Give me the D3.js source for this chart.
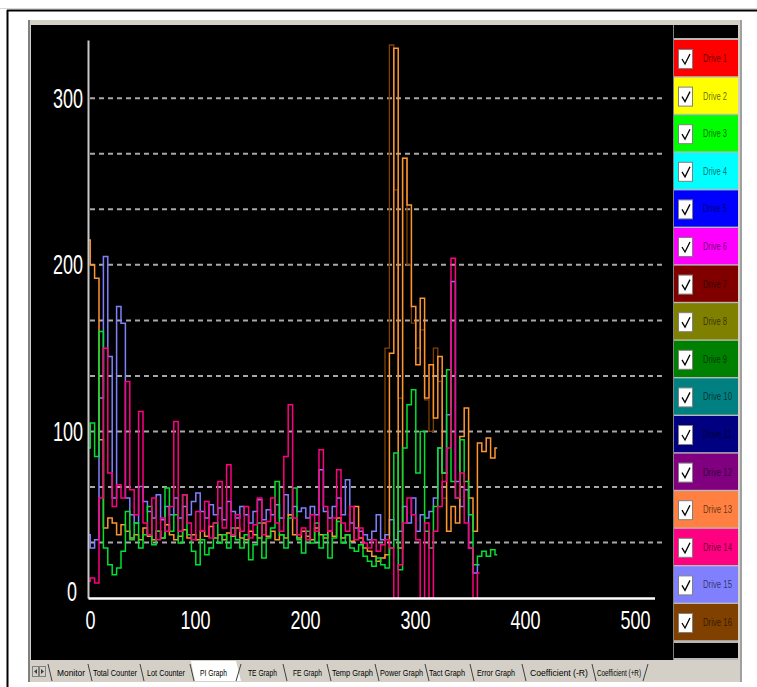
<!DOCTYPE html>
<html><head><meta charset="utf-8">
<script src="https://cdn.jsdelivr.net/npm/d3@7"></script>
<style>body{margin:0;background:#fff}svg{display:block}</style>
</head><body><svg id="c" width="757" height="687"></svg>
<script>
// ---------- DATA ----------
const sampleStep = 4; // samples every 4 counts
const yTickValues = [0, 100, 200, 300];
const xTickValues = [0, 100, 200, 300, 400, 500];
const gridValues = [33.33, 66.67, 100, 133.33, 166.67, 200, 233.33, 266.67, 300];

const legendNames = ["Drive 1","Drive 2","Drive 3","Drive 4","Drive 5","Drive 6","Drive 7","Drive 8",
  "Drive 9","Drive 10","Drive 11","Drive 12","Drive 13","Drive 14","Drive 15","Drive 16"];
const legendColors = ["#ff0000","#ffff00","#00ff00","#00ffff","#0000ff","#ff00ff","#800000","#808000",
  "#008000","#008080","#000080","#800080","#ff8040","#ff0080","#8080ff","#804000"];

const tabLabels = ["Monitor","Total Counter","Lot Counter","PI Graph","TE Graph","FE Graph","Temp Graph",
  "Power Graph","Tact Graph","Error Graph","Coefficient (-R)","Coefficient (+R)"];

// Drive 13 (orange)
const drive13 = [215,200,192,95,42,48,45,38,44,40,
  36,38,35,42,37,35,40,36,44,38,
  35,37,41,36,38,35,40,37,43,36,
  38,35,39,37,42,36,35,40,38,36,
  45,37,40,35,38,36,50,38,36,40,
  37,35,42,38,36,40,37,48,36,38,
  34,55,36,30,28,25,22,24,26,147,
  330,30,264,236,175,140,180,120,140,108,
  145,75,40,55,45,97,114,60,40,93,
  88,96,84,90];
// Drive 3 (green)
const drive3 = [90,105,85,160,30,20,14,18,28,52,
  35,45,30,38,55,32,40,36,66,40,
  50,33,62,38,28,20,35,26,30,45,
  33,38,30,42,35,30,38,23,32,45,
  24,36,42,70,38,30,48,66,35,27,
  40,33,45,30,38,24,36,46,33,38,
  30,28,32,25,22,19,24,20,18,30,
  87,17,90,116,125,75,100,40,30,55,
  90,75,137,70,60,95,70,50,20,25,
  28,25,29,26];
// Drive 14 (pink)
const drive14 = [10,12,9,60,150,75,55,68,60,130,
  65,50,112,45,38,60,35,48,40,55,
  106,40,62,45,35,52,40,58,36,45,
  70,42,80,38,50,40,55,36,44,60,
  38,46,60,45,40,85,116,48,38,42,
  35,50,40,89,55,40,48,77,45,40,
  55,35,42,33,30,35,28,32,35,30,
  0,20,45,60,50,35,0,45,0,40,
  55,70,90,204,60,75,45,30,0,15];
// Drive 15 (periwinkle)
const drive15 = [38,30,35,120,205,145,60,175,165,60,
  50,45,67,58,52,48,62,47,55,50,
  60,48,55,50,58,63,52,48,56,50,
  54,47,58,52,48,55,50,45,52,59,
  47,53,50,56,48,62,50,55,52,54,
  48,55,50,77,52,48,55,60,50,71,
  45,42,40,38,35,40,50,35,38,47,
  35,40,55,45,60,40,50,48,52,60,
  90,75,110,190,70,55,65,30,15,20];
// Drive 16 (brown) - visible only in the burst region, starting at sample 67
const drive16Start = 67;
const drive16 = [24,150,332,245,120,264,200,165,150,161,119,100,150,130,60,40];

// ---------- DRAW ----------
const svg = d3.select("#c");
const W = 757, H = 687;
svg.append("rect").attr("width", W).attr("height", H).attr("fill", "#fff");
svg.append("line").attr("x1", 0).attr("x2", W).attr("y1", 8.5).attr("y2", 8.5).attr("stroke", "#d8d8d8");
svg.append("line").attr("x1", 7).attr("x2", W).attr("y1", 10.5).attr("y2", 10.5).attr("stroke", "#000").attr("stroke-width", 2);
svg.append("line").attr("x1", 7.5).attr("x2", 7.5).attr("y1", 10).attr("y2", H).attr("stroke", "#000").attr("stroke-width", 2);

// window panel
svg.append("rect").attr("x", 28).attr("y", 20).attr("width", 714).attr("height", 662).attr("fill", "#d4d0c8");
svg.append("rect").attr("x", 28).attr("y", 20).attr("width", 2).attr("height", 662).attr("fill", "#808080");
svg.append("rect").attr("x", 740).attr("y", 20).attr("width", 2).attr("height", 662).attr("fill", "#a0a0a0");
// plot background
svg.append("rect").attr("x", 31).attr("y", 25).attr("width", 642).attr("height", 635).attr("fill", "#000");
svg.append("rect").attr("x", 673).attr("y", 25).attr("width", 1).attr("height", 635).attr("fill", "#808080");

// scales
const x = d3.scaleLinear().domain([0, 515]).range([88, 654.5]);
const y = d3.scaleLinear().domain([0, 335]).range([598, 40]);

// grid
svg.append("g").selectAll("line").data(gridValues).join("line")
  .attr("x1", 90).attr("x2", 662)
  .attr("y1", d => y(d)).attr("y2", d => y(d))
  .attr("stroke", "#a8a8a8").attr("stroke-width", 2).attr("stroke-dasharray", "5,4");

// series
function toPoints(arr, start) {
  return arr.map((v, k) => ({ i: (start + k) * sampleStep, v }));
}
const series = [
  { name: "Drive 16", color: legendColors[15], pts: toPoints(drive16, drive16Start), w: 1.3 },
  { name: "Drive 15", color: legendColors[14], pts: toPoints(drive15, 0), w: 1.5 },
  { name: "Drive 13", color: "#ff9530", pts: toPoints(drive13, 0), w: 1.5 },
  { name: "Drive 3", color: "#00e030", pts: toPoints(drive3, 0), w: 1.5 },
  { name: "Drive 14", color: legendColors[13], pts: toPoints(drive14, 0), w: 1.5 }
];
const line = d3.line().defined(d => d.v != null).x(d => x(d.i)).y(d => y(d.v)).curve(d3.curveStep);
svg.append("g").selectAll("path").data(series).join("path")
  .attr("d", d => line(d.pts))
  .attr("fill", "none").attr("stroke", d => d.color).attr("stroke-width", d => d.w)
  .attr("stroke-linejoin", "miter");

// axes
const yAxis = d3.axisLeft(y).tickValues(yTickValues).tickSize(0).tickSizeOuter(0).tickPadding(5);
const gy = svg.append("g").attr("transform", "translate(88,0)").call(yAxis);
gy.select(".domain").attr("stroke", "#c8c8c8").attr("stroke-width", 2);
gy.selectAll("text").attr("fill", "#fff").attr("font-family", "Liberation Sans, Arial, sans-serif")
  .attr("font-size", 28).attr("lengthAdjust", "spacingAndGlyphs")
  .attr("textLength", d => String(d).length * 10)
  .attr("transform", d => d === 0 ? "translate(-6,-6)" : null);

const xAxis = d3.axisBottom(x).tickValues(xTickValues).tickSize(0).tickSizeOuter(0).tickPadding(13);
const gx = svg.append("g").attr("transform", "translate(0,598)").call(xAxis);
gx.select(".domain").attr("stroke", "#fff").attr("stroke-width", 2.5);
gx.selectAll("text").attr("fill", "#fff").attr("font-family", "Liberation Sans, Arial, sans-serif")
  .attr("font-size", 26).attr("lengthAdjust", "spacingAndGlyphs")
  .attr("textLength", d => String(d).length * 10).attr("dx", d => d === 0 ? 2 : -3);

// legend
const lg = svg.append("g");
lg.append("rect").attr("x", 674).attr("y", 25).attr("width", 64).attr("height", 635).attr("fill", "#b8b8b8");
lg.append("rect").attr("x", 674).attr("y", 25).attr("width", 64).attr("height", 13).attr("fill", "#000");
lg.append("rect").attr("x", 674).attr("y", 643).attr("width", 64).attr("height", 15).attr("fill", "#000");
const entryH = 37.6, entryTop = 40;
const ent = lg.selectAll("g.e").data(legendNames).join("g").attr("class", "e")
  .attr("transform", (d, k) => `translate(674,${entryTop + k * entryH})`);
ent.append("rect").attr("x", 0).attr("y", 0).attr("width", 64).attr("height", entryH - 1.4)
  .attr("fill", (d, k) => legendColors[k]);
ent.append("rect").attr("x", 4.5).attr("y", 9.5).attr("width", 14).attr("height", 19)
  .attr("fill", "#fff").attr("stroke", "#808080").attr("stroke-width", 1);
ent.append("path").attr("d", "M8,19 L11,24 L16,14").attr("fill", "none")
  .attr("stroke", "#000").attr("stroke-width", 1.3);
ent.append("text").attr("x", 29).attr("y", 22).text(d => d)
  .attr("font-family", "Liberation Sans, Arial, sans-serif").attr("font-size", 10.5)
  .attr("lengthAdjust", "spacingAndGlyphs").attr("textLength", d => d.length > 7 ? 29 : 24)
  .attr("fill", "#000").attr("fill-opacity", 0.62);

// tab bar
const tb = svg.append("g");
tb.append("rect").attr("x", 30).attr("y", 660).attr("width", 710).attr("height", 22).attr("fill", "#d4d0c8");
tb.append("line").attr("x1", 30).attr("x2", 740).attr("y1", 682.5).attr("y2", 682.5).attr("stroke", "#ffffff");
// scroll buttons
[32, 39].forEach((bx, k) => {
  tb.append("rect").attr("x", bx + 0.5).attr("y", 666.5).attr("width", 6).attr("height", 10)
    .attr("fill", "#d4d0c8").attr("stroke", "#808080");
  tb.append("path").attr("d", k === 0 ? `M${bx+2},671.5 L${bx+5},669 L${bx+5},674 Z` : `M${bx+5},671.5 L${bx+2},669 L${bx+2},674 Z`)
    .attr("fill", "#404040");
});
const tabLeft = [57, 93, 147, 200, 248, 293, 332, 380, 429, 477, 530, 597];
const tabWidth = [28, 44, 38, 27, 29, 29, 41, 43, 36, 38, 58, 44];
const sepX = [48, 88, 140, 190, 283, 327, 375, 425, 470, 522, 592];
// selected tab (PI Graph)
tb.append("path").attr("d", "M191,661 L236,661 L241,681 L195,681 Z").attr("fill", "#ffffff");
tb.append("line").attr("x1", 236).attr("y1", 681).attr("x2", 241).attr("y2", 664).attr("stroke", "#404040");
tb.append("line").attr("x1", 643).attr("y1", 681).attr("x2", 648).attr("y2", 664).attr("stroke", "#404040");
tb.selectAll("path.sep").data(sepX).join("path").attr("class", "sep")
  .attr("d", d => `M${d},664 L${d+4},681`).attr("stroke", "#404040").attr("fill", "none");
tb.selectAll("text").data(tabLabels).join("text")
  .attr("x", (d, k) => tabLeft[k]).attr("y", 676).text(d => d)
  .attr("font-family", "Liberation Sans, Arial, sans-serif").attr("font-size", 9)
  .attr("lengthAdjust", "spacingAndGlyphs").attr("textLength", (d, k) => tabWidth[k])
  .attr("fill", "#000");
</script></body></html>
